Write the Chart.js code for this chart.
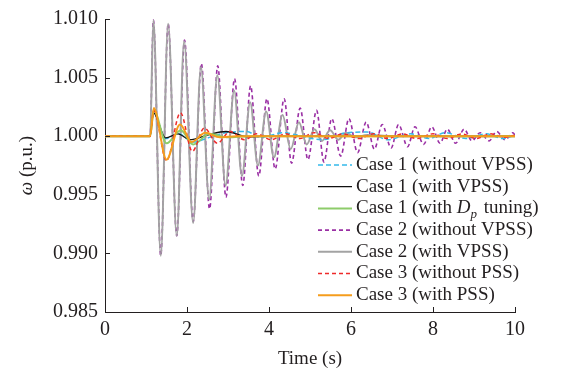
<!DOCTYPE html>
<html>
<head>
<meta charset="utf-8">
<script src="https://cdn.jsdelivr.net/npm/chart.js@4.4.0/dist/chart.umd.min.js"></script>
<style>
  html, body { margin: 0; padding: 0; background: #fff; }
  #wrap { width: 565px; height: 370px; }
</style>
</head>
<body>
<div id="wrap"><canvas id="chart" width="565" height="370"></canvas></div>
<script>
// rotor speed after the disturbance

const xTicks = [0, 2, 4, 6, 8, 10];
const yTicks = [0.985, 0.990, 0.995, 1.000, 1.005, 1.010];

const c1NoVpssT = [0, 1.1, 1.18, 1.48, 1.8, 2.15, 2.55, 2.95, 3.45, 3.8, 4.35, 4.8, 5.3, 5.9, 6.4, 6.9, 7.45, 7.9, 8.3, 8.8, 9.3, 9.7, 10];
const c1NoVpssW = [1, 1, 1.0020, 0.9998, 1.0002, 0.9995, 0.9999, 1.0003, 1.0004, 0.9999, 1.0003, 1.0000, 0.9997, 1.0003, 1.00035, 0.9997, 1.0002, 0.9998, 1.0003, 0.9998, 1.0002, 0.9998, 1.0001];

const c1VpssT = [0, 1.1, 1.18, 1.48, 1.78, 2.07, 2.5, 2.95, 3.5, 4.0, 10];
const c1VpssW = [1, 1, 1.0020, 0.99985, 1.0002, 0.9997, 1.0001, 1.0004, 0.99995, 1.0000, 1.0000];

const c1DpT = [0, 1.1, 1.19, 1.5, 1.85, 2.15, 2.55, 3.0, 3.5, 10];
const c1DpW = [1, 1, 1.0022, 0.9994, 1.0005, 0.9993, 1.0002, 0.9999, 1.0000, 1.0000];

const c2NoVpssT = [0, 1.1, 1.18, 1.36, 1.54, 1.75, 1.94, 2.15, 2.35, 2.55, 2.75, 2.95, 3.16, 3.36, 3.55, 3.75,
  3.95, 4.15, 4.37, 4.55, 4.76, 4.95, 5.16, 5.34, 5.53, 5.75, 5.95, 6.16, 6.37, 6.57, 6.76, 6.98,
  7.16, 7.38, 7.56, 7.77, 7.97, 8.17, 8.35, 8.55, 8.76, 8.95, 9.15, 9.37, 9.55, 9.76, 9.95, 10];
const c2NoVpssW = [1.0000, 1.0000, 1.0099, 0.9898, 1.0096, 0.9915, 1.0082, 0.9927, 1.0062, 0.9938, 1.0060, 0.9948, 1.0049, 0.9958, 1.0043, 0.9966,
  1.0032, 0.9972, 1.0032, 0.9977, 1.0024, 0.9980, 1.0022, 0.9978, 1.0015, 0.9983, 1.0015, 0.9986, 1.0012, 0.9989, 1.0010, 0.9990,
  1.0010, 0.9991, 1.0008, 0.9993, 1.0008, 0.9994, 1.0006, 0.9994, 1.0006, 0.9996, 1.0003, 0.9996, 1.0004, 0.9997, 1.0003, 1.0001];

const c2VpssT = [0, 1.1, 1.18, 1.36, 1.54, 1.75, 1.93, 2.15, 2.34, 2.54, 2.74, 2.94, 3.15, 3.34, 3.54, 3.73,
  3.93, 4.12, 4.33, 4.53, 4.73, 4.92, 5.11, 5.29, 5.49, 5.69, 5.88, 6.1, 6.4, 7, 8, 9, 10];
const c2VpssW = [1.0000, 1.0000, 1.0099, 0.9898, 1.0096, 0.9915, 1.0081, 0.9926, 1.0059, 0.9946, 1.0052, 0.9958, 1.0039, 0.9966, 1.0029, 0.9975,
  1.0021, 0.9982, 1.0018, 0.9989, 1.0012, 0.9993, 1.0006, 0.9996, 1.0005, 0.9997, 1.0003, 0.9999, 1.0001, 1.0000, 1, 1, 1];

const c3NoPssT = [0, 1.1, 1.19, 1.5, 1.84, 2.13, 2.42, 2.74, 3.05, 3.4, 3.7, 4.05, 4.4, 4.75, 5.1, 5.45, 5.8, 6.2, 6.55, 6.9,
  7.25, 7.6, 8.0, 8.35, 8.7, 9.05, 9.4, 9.75, 10];
const c3NoPssW = [1, 1, 1.0022, 0.9979, 1.0020, 0.9987, 1.0007, 0.9994, 1.0004, 0.9997, 1.0002, 0.9997, 1.0002, 0.9998, 1.0003, 0.9998, 1.0002, 0.9998, 1.0002, 0.9998,
  1.0002, 0.9998, 1.0002, 0.9998, 1.0002, 0.9998, 1.0002, 0.9999, 1.0001];

const c3PssT = [0, 1.1, 1.19, 1.5, 1.83, 2.11, 2.45, 2.8, 3.2, 10];
const c3PssW = [1, 1, 1.0024, 0.9980, 1.0010, 0.9995, 1.0003, 0.9999, 1.0000, 1.0000];

const FONT = '"Liberation Serif", "Times New Roman", serif';
const INK = '#231f20';

function pts(t, w) {
    return t.map((x, i) => ({ x: x, y: w[i] }));
}

function line(label, t, w, color, width, dash, order) {
    return {
        label: label,
        data: pts(t, w),
        borderColor: color,
        borderWidth: width,
        borderDash: dash,
        pointRadius: 0,
        fill: false,
        cubicInterpolationMode: 'monotone',
        order: order
    };
}

// legend inside the plot, bottom right, with the italic D_p entry
const legendBox = {
    id: 'legendBox',
    afterDraw(chart) {
        const ctx = chart.ctx;
        const sets = chart.data.datasets;
        const x0 = 318, x1 = 352, tx = 356, y0 = 165, dy = 21.7;
        ctx.save();
        sets.forEach((ds, i) => {
            const y = y0 + i * dy;
            ctx.strokeStyle = ds.borderColor;
            ctx.lineWidth = ds.borderWidth;
            ctx.setLineDash(ds.borderDash || []);
            ctx.beginPath();
            ctx.moveTo(x0, y);
            ctx.lineTo(x1, y);
            ctx.stroke();
            ctx.setLineDash([]);
            ctx.fillStyle = INK;
            ctx.textBaseline = 'middle';
            ctx.textAlign = 'left';
            if (ds.label === 'DP') {
                let x = tx;
                ctx.font = '19px ' + FONT;
                ctx.fillText('Case 1 (with ', x, y);
                x += ctx.measureText('Case 1 (with ').width;
                ctx.font = 'italic 19px ' + FONT;
                ctx.fillText('D', x, y);
                x += ctx.measureText('D').width;
                ctx.font = 'italic 13px ' + FONT;
                ctx.fillText('p', x, y + 6);
                x += ctx.measureText('p').width + 2;
                ctx.font = '19px ' + FONT;
                ctx.fillText(' tuning)', x, y);
            } else {
                ctx.font = '19px ' + FONT;
                ctx.fillText(ds.label, tx, y);
            }
        });
        ctx.restore();
    }
};

// inward tick marks and the rotated y title
const axisDecor = {
    id: 'axisDecor',
    afterDraw(chart) {
        const ctx = chart.ctx;
        const xs = chart.scales.x, ys = chart.scales.y;
        const area = chart.chartArea;
        ctx.save();
        ctx.strokeStyle = INK;
        ctx.lineWidth = 1;
        ctx.beginPath();
        xTicks.forEach(v => {
            const px = Math.round(xs.getPixelForValue(v)) + 0.5;
            ctx.moveTo(px, area.bottom);
            ctx.lineTo(px, area.bottom - 5);
        });
        yTicks.forEach(v => {
            const py = Math.round(ys.getPixelForValue(v)) + 0.5;
            ctx.moveTo(area.left, py);
            ctx.lineTo(area.left + 5, py);
        });
        ctx.stroke();

        ctx.translate(27, (area.top + area.bottom) / 2);
        ctx.rotate(-Math.PI / 2);
        ctx.fillStyle = INK;
        ctx.textBaseline = 'middle';
        ctx.font = 'italic 19px ' + FONT;
        const a = ctx.measureText('ω').width;
        ctx.font = '19px ' + FONT;
        const b = ctx.measureText(' (p.u.)').width;
        let x = -(a + b) / 2;
        ctx.font = 'italic 19px ' + FONT;
        ctx.textAlign = 'left';
        ctx.fillText('ω', x, 0);
        ctx.font = '19px ' + FONT;
        ctx.fillText(' (p.u.)', x + a, 0);
        ctx.restore();
    }
};

const datasets = [
    line('Case 1 (without VPSS)', c1NoVpssT, c1NoVpssW, '#35b9ea', 1.5, [5, 3], 5),
    line('Case 1 (with VPSS)', c1VpssT, c1VpssW, '#111111', 1.3, [], 4),
    line('DP', c1DpT, c1DpW, '#8dcc6a', 2, [], 3),
    line('Case 2 (without VPSS)', c2NoVpssT, c2NoVpssW, '#9a2fa4', 1.6, [4, 3], 7),
    line('Case 2 (with VPSS)', c2VpssT, c2VpssW, '#a3a3a3', 2, [], 6),
    line('Case 3 (without PSS)', c3NoPssT, c3NoPssW, '#ee2a2a', 1.5, [4, 3], 2),
    line('Case 3 (with PSS)', c3PssT, c3PssW, '#f59d1c', 2, [], 1)
];

new Chart(document.getElementById('chart').getContext('2d'), {
    type: 'line',
    data: { datasets: datasets },
    options: {
        responsive: false,
        animation: false,
        events: [],
        layout: { padding: { top: 14, right: 50, left: 0, bottom: 0 } },
        plugins: {
            legend: { display: false },
            tooltip: { enabled: false }
        },
        scales: {
            x: {
                type: 'linear',
                min: 0,
                max: 10,
                afterBuildTicks: s => { s.ticks = xTicks.map(v => ({ value: v })); },
                afterFit: s => { s.height = 58; },
                grid: { drawOnChartArea: false, drawTicks: false },
                border: { display: true, color: INK, width: 1 },
                ticks: {
                    padding: 6,
                    color: INK,
                    font: { family: FONT, size: 20 },
                    maxRotation: 0,
                    callback: v => String(v)
                },
                title: {
                    display: true,
                    text: 'Time (s)',
                    color: INK,
                    font: { family: FONT, size: 19 },
                    padding: { top: 0, bottom: 0 }
                }
            },
            y: {
                type: 'linear',
                min: 0.985,
                max: 1.010,
                afterBuildTicks: s => { s.ticks = yTicks.map(v => ({ value: v })); },
                afterFit: s => { s.width = 105; },
                grid: { drawOnChartArea: false, drawTicks: false },
                border: { display: true, color: INK, width: 1 },
                ticks: {
                    padding: 7,
                    color: INK,
                    font: { family: FONT, size: 20 },
                    callback: v => v.toFixed(3)
                }
            }
        }
    },
    plugins: [legendBox, axisDecor]
});
</script>
</body>
</html>
